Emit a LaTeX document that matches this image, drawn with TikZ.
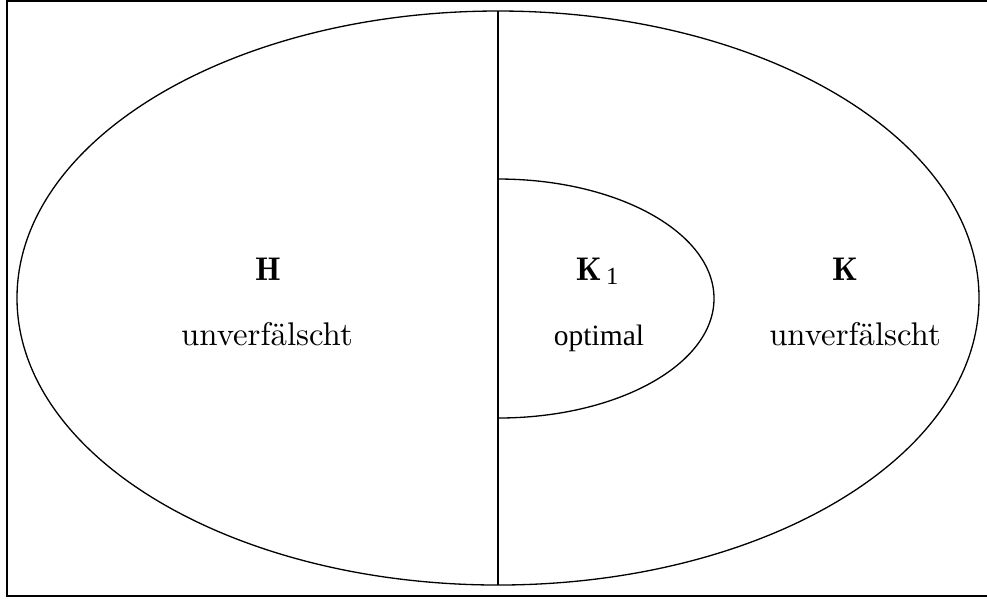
\documentclass[tikz,border=0pt]{standalone}
\usepackage{fontspec}
\usepackage{tikz}
\newfontfamily\timesfont{Liberation Serif}
\tikzset{
  frame/.style={line width=0.6pt},
  region/.style={thin},
  lab/.style={inner sep=0pt,anchor=base},
  tlab/.style={inner sep=0pt,anchor=base,font=\timesfont\fontsize{9}{11}\selectfont}
}

\begin{document}
\begin{tikzpicture}[x=0.305pt,y=-0.305pt]
  \useasboundingbox (0,0) rectangle (987,601);
  % frame
  \draw[frame] (1000,1) -- (7,1) -- (7,596) -- (1000,596);
  % regions
  \draw[region] (498,298) ellipse[x radius=481,y radius=287];
  \draw[region] (498,11) -- (498,585);
  \draw[region] (498,179) arc[start angle=-90,end angle=90,x radius=216,y radius=119.5];
  % labels
  \node[lab] (h) at (268,280) {$\mathbf{H}$};
  \node[lab] (hu) at (267,345) {unverfälscht};
  \node[lab] (k1) at (598,280) {$\mathbf{K}_{\,\mbox{\timesfont\fontsize{7.5}{9}\selectfont 1}}$};
  \node[tlab] (ko) at (599,345) {optimal};
  \node[lab] (k) at (845,280) {$\mathbf{K}$};
  \node[lab] (ku) at (855,345) {unverfälscht};
\end{tikzpicture}
\end{document}
